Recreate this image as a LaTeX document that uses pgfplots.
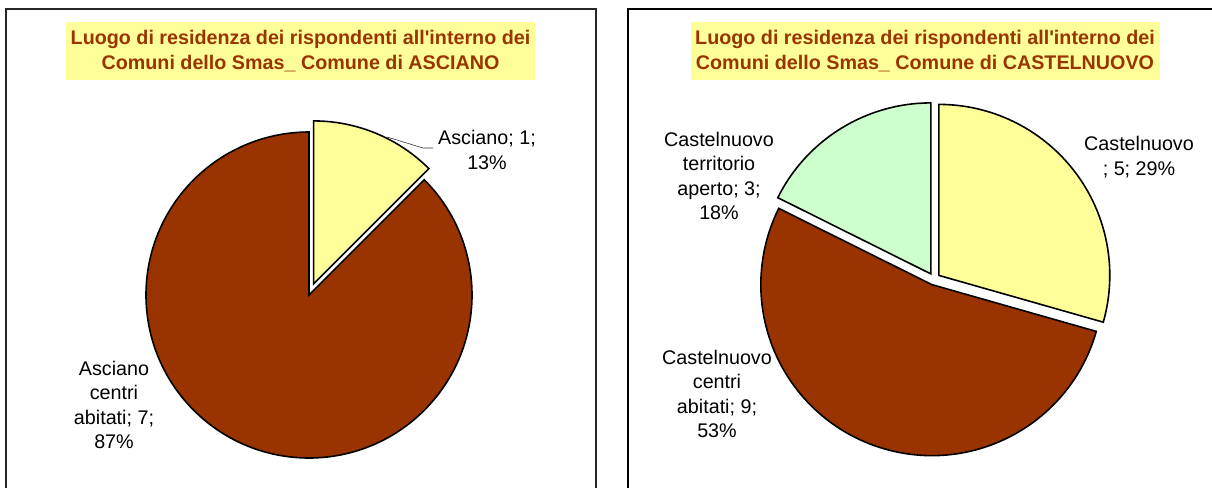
\documentclass[border=0pt]{standalone}
\usepackage{pgfplots}
\usepackage{pgfplotstable}
\pgfplotsset{compat=1.18}
\usepackage{fontspec}
\setmainfont{Liberation Sans}
\definecolor{pieY}{HTML}{FFFF99}
\definecolor{pieB}{HTML}{993300}
\definecolor{pieG}{HTML}{CCFFCC}
\definecolor{ttlB}{HTML}{993300}

\pgfplotstableread{
slice value
Asciano 1
AscianoCentri 7
}\tabA
\pgfplotstableread{
slice value
Castelnuovo 5
CastelnuovoCentri 9
CastelnuovoTerritorio 3
}\tabC

\newcommand\lbl{\fontsize{19.8}{24.5}\selectfont}
\newcommand\ttl{\fontsize{19.8}{25}\selectfont\bfseries}
% cx cy r start end explode color
\newcommand\slice[7]{%
  \filldraw[fill=#7,draw=black,line width=1.6pt,shift={({(#4+#5)/2}:#6)}]
    (axis cs:#1,#2) -- ++(#4:#3) arc[start angle=#4,end angle=#5,radius=#3] -- cycle;}

\begin{document}
\begin{tikzpicture}
\pgfplotstablegetelem{0}{value}\of\tabA \let\vAa\pgfplotsretval
\pgfplotstablegetelem{1}{value}\of\tabA \let\vAb\pgfplotsretval
\pgfmathsetmacro\totA{\vAa+\vAb}
\pgfmathsetmacro\aAa{90-360*\vAa/\totA}
\pgfmathsetmacro\aAb{\aAa-360*\vAb/\totA}
\pgfplotstablegetelem{0}{value}\of\tabC \let\vCa\pgfplotsretval
\pgfplotstablegetelem{1}{value}\of\tabC \let\vCb\pgfplotsretval
\pgfplotstablegetelem{2}{value}\of\tabC \let\vCc\pgfplotsretval
\pgfmathsetmacro\totC{\vCa+\vCb+\vCc}
\pgfmathsetmacro\aCa{90-360*\vCa/\totC}
\pgfmathsetmacro\aCb{\aCa-360*\vCb/\totC}
\pgfmathsetmacro\aCc{\aCb-360*\vCc/\totC}
\begin{axis}[scale only axis, width=1212bp, height=488bp,
  xmin=0, xmax=1212, ymin=0, ymax=488, y dir=reverse,
  hide axis, clip=true]
% frames
\draw[line width=1.2pt, black!85] (axis cs:6,490) -- (axis cs:6,9) -- (axis cs:596,9) -- (axis cs:596,490);
\draw[line width=2.4pt, black] (axis cs:628,490) -- (axis cs:628,9) -- (axis cs:1214,9);
% titles
\node[fill=pieY, text=ttlB, font=\ttl, align=center, inner sep=0pt,
  minimum width=469bp, minimum height=58bp] at (axis cs:300.5,51)
  {Luogo di residenza dei rispondenti all\textquotesingle interno dei\\Comuni dello Smas\_ Comune di ASCIANO};
\node[fill=pieY, text=ttlB, font=\ttl, align=center, inner sep=0pt,
  minimum width=469bp, minimum height=58bp] at (axis cs:925,51)
  {Luogo di residenza dei rispondenti all\textquotesingle interno dei\\Comuni dello Smas\_ Comune di CASTELNUOVO};
% left pie
\slice{309}{295}{163bp}{90}{\aAa}{12bp}{pieY}
\slice{309}{295}{163bp}{\aAa}{\aAb}{0bp}{pieB}
\draw[line width=0.6pt, black!80] (axis cs:387,137) -- (axis cs:423,148) -- (axis cs:433,148);
\node[font=\lbl, align=center] at (axis cs:487,150) {Asciano; 1;\\13\%};
\node[font=\lbl, align=center] at (axis cs:114,405) {Asciano\\centri\\abitati; 7;\\87\%};
% right pie
\slice{934}{279}{171bp}{90}{\aCa}{6bp}{pieY}
\slice{934}{279}{171bp}{\aCa}{\aCb}{6bp}{pieB}
\slice{934}{279}{171bp}{\aCb}{\aCc}{6bp}{pieG}
\node[font=\lbl, align=center] at (axis cs:1139,157) {Castelnuovo\\; 5; 29\%};
\node[font=\lbl, align=center] at (axis cs:719,176) {Castelnuovo\\territorio\\aperto; 3;\\18\%};
\node[font=\lbl, align=center] at (axis cs:717,394) {Castelnuovo\\centri\\abitati; 9;\\53\%};
\end{axis}
\pgfresetboundingbox
\useasboundingbox (current axis.south west) rectangle (current axis.north east);
\end{tikzpicture}
\end{document}
